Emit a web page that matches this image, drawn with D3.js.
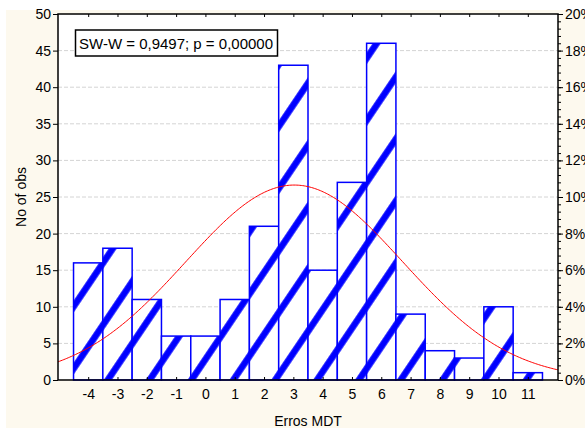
<!DOCTYPE html>
<html><head><meta charset="utf-8">
<script src="https://cdn.jsdelivr.net/npm/d3@7"></script>
<style>body{margin:0;background:#fff;overflow:hidden}</style>
</head><body>
<svg id="c" width="585" height="430"></svg>
<script>
// ---- data ----
const categories = [-4,-3,-2,-1,0,1,2,3,4,5,6,7,8,9,10,11];
const counts     = [16,18,11,6,6,11,21,43,15,27,46,9,4,3,10,1];
const countTicks = [0,5,10,15,20,25,30,35,40,45,50];
const pctTicks   = [0,2,4,6,8,10,12,14,16,18,20];
const pctMinor   = d3.range(0, 20.01, 0.4);
const fitMean = 3.03, fitSD = 3.70, nObs = 247; // fitted normal curve parameters
const statText = "SW-W = 0,9497; p = 0,00000";
const xTitle = "Erros MDT", yTitle = "No of obs";

// ---- layout ----
const svg = d3.select("#c");
const L = 58, R = 558, T = 14, B = 380;
const font = "'Liberation Sans', Arial, sans-serif";

svg.append("rect").attr("x",6).attr("y",10).attr("width",579).attr("height",418).attr("fill","#fdf9ee");
svg.append("rect").attr("x",L).attr("y",T).attr("width",R-L).attr("height",B-T).attr("fill","#fff");

const x = d3.scaleLinear().domain([-5.03, 12.03]).range([L, R]);
const y = d3.scaleLinear().domain([0, 50]).range([B, T]);
const yp = d3.scaleLinear().domain([0, 20]).range([B, T]);

// gridlines
svg.append("g").selectAll("line").data(countTicks.filter(d => d > 0 && d < 50)).join("line")
  .attr("x1", L).attr("x2", R).attr("y1", d => y(d)).attr("y2", d => y(d))
  .attr("stroke", "#d4d4d4").attr("stroke-width", 1).attr("stroke-dasharray", "4,2");

// hatch pattern
const defs = svg.append("defs");
const pat = defs.append("pattern").attr("id","hatch").attr("patternUnits","userSpaceOnUse")
  .attr("width", 34.7).attr("height", 40).attr("patternTransform","rotate(34)");
pat.append("rect").attr("x",0).attr("y",0).attr("width",34.7).attr("height",40).attr("fill","#fff");
pat.append("rect").attr("x",21).attr("y",-1).attr("width",6.5).attr("height",42).attr("fill","#0000ff");

const bw = x(1) - x(0);
svg.append("g").selectAll("rect").data(categories).join("rect")
  .attr("x", (d) => x(d - 0.5)).attr("width", bw)
  .attr("y", (d, i) => y(counts[i])).attr("height", (d, i) => B - y(counts[i]))
  .attr("fill", "url(#hatch)").attr("stroke", "#0000ff").attr("stroke-width", 1.5);

// normal curve
const xs = d3.range(-5.03, 12.04, 0.05);
const pdf = v => nObs * 1 / (fitSD * Math.sqrt(2 * Math.PI)) * Math.exp(-((v - fitMean) ** 2) / (2 * fitSD * fitSD));
svg.append("path").datum(xs)
  .attr("d", d3.line().x(v => x(v)).y(v => y(pdf(v))))
  .attr("fill", "none").attr("stroke", "#ff0000").attr("stroke-width", 1);

// frame
svg.append("rect").attr("x",L).attr("y",T).attr("width",R-L).attr("height",B-T)
  .attr("fill","none").attr("stroke","#000").attr("stroke-width",1.5);

// axes
const tickText = g => g.selectAll("text").attr("font-family", font).attr("font-size", 14).attr("fill", "#000");
const leftAx = svg.append("g").attr("transform", `translate(${L},0)`)
  .call(d3.axisLeft(y).tickValues(countTicks).tickSize(5).tickPadding(2));
leftAx.select(".domain").remove();
tickText(leftAx);

const rightMinor = svg.append("g").attr("transform", `translate(${R},0)`)
  .call(d3.axisRight(yp).tickValues(pctMinor).tickSize(3).tickFormat(""));
rightMinor.select(".domain").remove();
const rightAx = svg.append("g").attr("transform", `translate(${R},0)`)
  .call(d3.axisRight(yp).tickValues(pctTicks).tickSize(5).tickPadding(2).tickFormat(d => d + "%"));
rightAx.select(".domain").remove();
tickText(rightAx);

const bottomAx = svg.append("g").attr("transform", `translate(0,${B})`)
  .call(d3.axisBottom(x).tickValues(categories).tickSize(-3).tickPadding(9).tickFormat(d3.format("d")));
bottomAx.select(".domain").remove();
tickText(bottomAx);
bottomAx.selectAll("text").text(d => d < 0 ? "-" + Math.abs(d) : d);

const topAx = svg.append("g").attr("transform", `translate(0,${T})`)
  .call(d3.axisTop(x).tickValues(categories).tickSize(-3).tickFormat(""));
topAx.select(".domain").remove();

// titles
svg.append("text").attr("x", (L + R) / 2).attr("y", 426).attr("text-anchor", "middle")
  .attr("font-family", font).attr("font-size", 14).text(xTitle);
svg.append("text").attr("transform", `translate(25.5,${(T + B) / 2}) rotate(-90)`).attr("text-anchor", "middle")
  .attr("font-family", font).attr("font-size", 14).text(yTitle);

// stat box
svg.append("rect").attr("x", 75.5).attr("y", 30).attr("width", 202).attr("height", 26)
  .attr("fill", "#fff").attr("stroke", "#000").attr("stroke-width", 1.5);
svg.append("text").attr("x", 79).attr("y", 48.5).attr("font-family", font).attr("font-size", 15).text(statText);
</script>
</body></html>
